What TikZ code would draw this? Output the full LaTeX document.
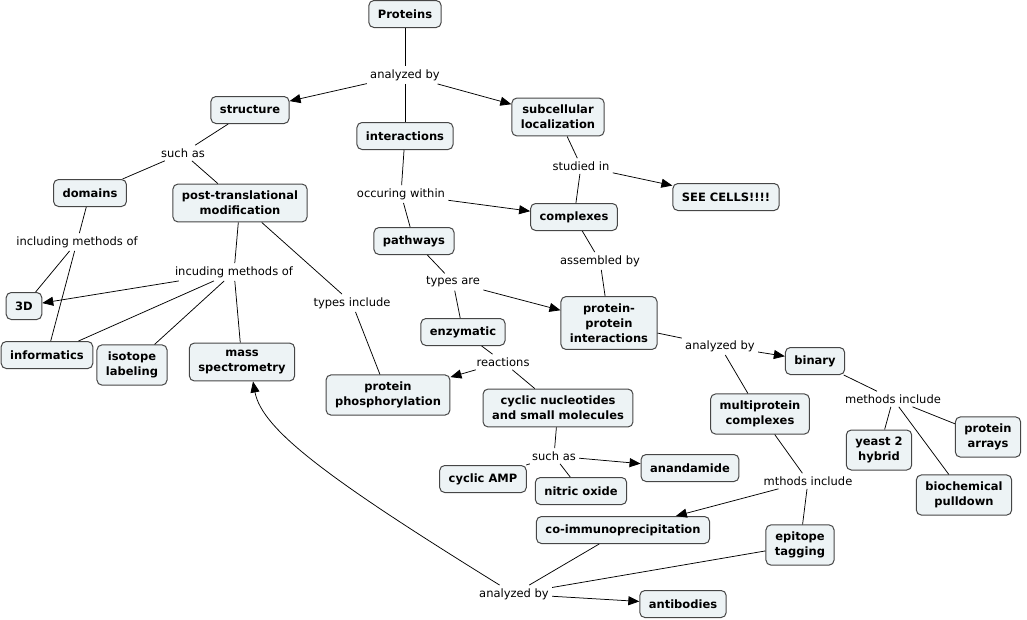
\documentclass[tikz,border=0pt]{standalone}
\usepackage{fontspec}
\setmainfont{DejaVu Sans}
\usetikzlibrary{arrows.meta}
\definecolor{cmapfill}{RGB}{237,243,245}
\definecolor{cmapline}{RGB}{70,70,70}

\begin{document}
\begin{tikzpicture}
				[x=1pt,y=-1pt,line width=0.75pt,
				concept/.style={rectangle,rounded corners=5pt,draw=cmapline,fill=cmapfill,line width=1pt,
					font=\fontsize{11.5}{15}\selectfont\bfseries,align=center,inner xsep=9pt,inner ysep=7pt,minimum height=27pt},
				link/.style={font=\fontsize{11.5}{15}\selectfont,inner sep=3pt},
				arr/.style={-{Triangle[length=11pt,width=9pt]}}]
				\useasboundingbox (0,0) rectangle (1027,619);
				% concepts
				\node[concept] (prot) at (405,14)  {Proteins};
				\node[concept] (struct) at (250,110)  {structure};
				\node[concept] (subloc) at (558,117)  {subcellular\\localization};
				\node[concept] (inter) at (405,136)  {interactions};
				\node[concept] (dom) at (90,193)  {domains};
				\node[concept] (ptm) at (240,203)  {post-translational\\modification};
				\node[concept] (cplx) at (574,217)  {complexes};
				\node[concept] (cells) at (726,197)  {SEE CELLS!!!!};
				\node[concept] (path) at (414,241)  {pathways};
				\node[concept] (3d) at (24,306)  {3D};
				\node[concept] (ppi) at (609,323)  {protein-\\protein\\interactions};
				\node[concept] (enz) at (463,332)  {enzymatic};
				\node[concept] (info) at (47,355)  {informatics};
				\node[concept] (iso) at (132,365)  {isotope\\labeling};
				\node[concept] (ms) at (242,362)  {mass\\spectrometry};
				\node[concept] (phos) at (388,395)  {protein\\phosphorylation};
				\node[concept] (bin) at (815,361)  {binary};
				\node[concept] (cnuc) at (558,408)  {cyclic nucleotides\\and small molecules};
				\node[concept] (multi) at (760,414)  {multiprotein\\complexes};
				\node[concept] (arrays) at (988,437)  {protein\\arrays};
				\node[concept] (y2h) at (879,450)  {yeast 2\\hybrid};
				\node[concept] (camp) at (483,479)  {cyclic AMP};
				\node[concept] (anan) at (690,468)  {anandamide};
				\node[concept] (no) at (581,491)  {nitric oxide};
				\node[concept] (pull) at (964,495)  {biochemical\\pulldown};
				\node[concept] (coip) at (623,530)  {co-immunoprecipitation};
				\node[concept] (epi) at (800,545)  {epitope\\tagging};
				\node[concept] (abod) at (683,604)  {antibodies};
				% linking phrases
				\node[link] (ab1) at (405,75)  {analyzed by};
				\node[link] (sa1) at (183,153)  {such as};
				\node[link] (ow) at (401,194)  {occuring within};
				\node[link] (si) at (581,166)  {studied in};
				\node[link] (im1) at (77,242)  {including methods of};
				\node[link] (asb) at (600,261)  {assembled by};
				\node[link] (im2) at (234,272)  {incuding methods of};
				\node[link] (ta) at (453,282)  {types are};
				\node[link] (ti) at (352,303)  {types include};
				\node[link] (rx) at (503,362)  {reactions};
				\node[link] (ab2) at (720,346)  {analyzed by};
				\node[link] (mi1) at (893,399)  {methods include};
				\node[link] (sa2) at (554,456)  {such as};
				\node[link] (mi2) at (808,481)  {mthods include};
				\node[link] (ab3) at (514,594)  {analyzed by};
				
				\foreach \a/\b in {prot/ab1,ab1/inter,struct/sa1,sa1/dom,sa1/ptm,inter/ow,ow/path,
					subloc/si,si/cplx,cplx/asb,asb/ppi,path/ta,ta/enz,dom/im1,im1/3d,im1/info,
					ptm/im2,im2/info,im2/iso,im2/ms,ptm/ti,ti/phos,enz/rx,rx/cnuc,ppi/ab2,ab2/multi,
					bin/mi1,mi1/y2h,mi1/pull,mi1/arrays,cnuc/sa2,sa2/camp,sa2/no,multi/mi2,mi2/epi,
					coip/ab3,epi/ab3}
				\draw (\a) -- (\b);
				\foreach \a/\b in {ab1/struct,ab1/subloc,ow/cplx,si/cells,ta/ppi,im2/3d,rx/phos,
					ab2/bin,sa2/anan,mi2/coip,ab3/abod}
				\draw[arr] (\a) -- (\b);
				\draw[arr] (ab3) .. controls (330,480) and (262,430) .. ([xshift=11pt]ms.south);
				\end{tikzpicture}
\end{document}
